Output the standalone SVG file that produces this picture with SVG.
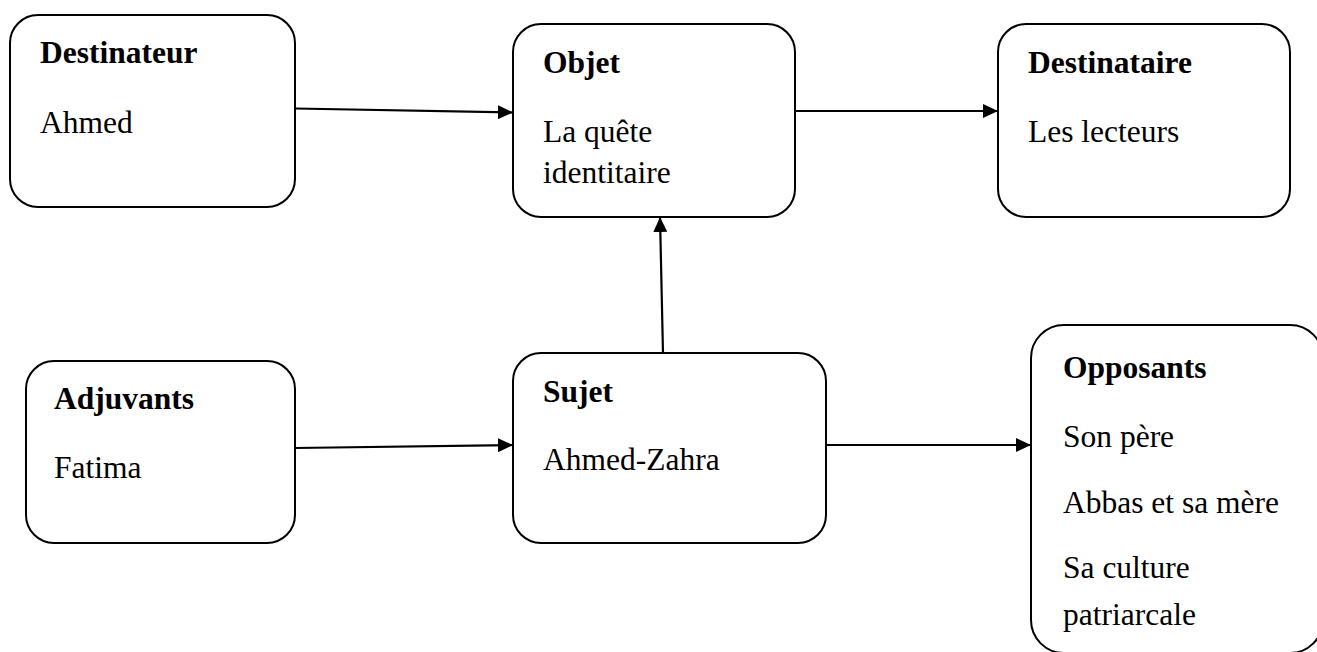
<svg xmlns="http://www.w3.org/2000/svg" width="1317" height="652" viewBox="0 0 1317 652">
<style>
.box{fill:#fff;stroke:#000;stroke-width:2}
.t{font-family:"Liberation Serif","Times New Roman",serif;font-size:31.5px;fill:#000}
.b{font-weight:bold}
.c{stroke:#000;stroke-width:2.2;fill:none;marker-end:url(#ah)}
</style>
<defs>
<marker id="ah" markerWidth="15" markerHeight="14" refX="15" refY="7" orient="auto" markerUnits="userSpaceOnUse">
<path d="M0,0 L15,7 L0,14 Z" fill="#000"/>
</marker>
</defs>
<rect width="1317" height="652" fill="#fff"/>
<g id="destinateur">
<rect class="box" x="10" y="15" width="285" height="192" rx="28" ry="28"/>
<text class="t b" x="40" y="63">Destinateur</text>
<text class="t" x="40" y="133">Ahmed</text>
</g>
<g id="objet">
<rect class="box" x="513" y="24" width="282" height="193" rx="28" ry="28"/>
<text class="t b" x="543" y="73">Objet</text>
<text class="t" x="543" y="142">La quête</text>
<text class="t" x="543" y="183">identitaire</text>
</g>
<g id="destinataire">
<rect class="box" x="998" y="24" width="292" height="193" rx="28" ry="28"/>
<text class="t b" x="1028" y="73">Destinataire</text>
<text class="t" x="1028" y="142">Les lecteurs</text>
</g>
<g id="adjuvants">
<rect class="box" x="26" y="361" width="269" height="182" rx="28" ry="28"/>
<text class="t b" x="54" y="409">Adjuvants</text>
<text class="t" x="54" y="478">Fatima</text>
</g>
<g id="sujet">
<rect class="box" x="513" y="353" width="313" height="190" rx="28" ry="28"/>
<text class="t b" x="543" y="402">Sujet</text>
<text class="t" x="543" y="470">Ahmed-Zahra</text>
</g>
<g id="opposants">
<rect class="box" x="1031" y="325" width="292" height="328" rx="33" ry="33"/>
<text class="t b" x="1063" y="378">Opposants</text>
<text class="t" x="1063" y="447">Son père</text>
<text class="t" x="1063" y="513">Abbas et sa mère</text>
<text class="t" x="1063" y="578">Sa culture</text>
<text class="t" x="1063" y="625">patriarcale</text>
</g>
<g id="connectors">
<line class="c" x1="295" y1="108.5" x2="513" y2="112.5"/>
<line class="c" x1="795" y1="111" x2="998" y2="111"/>
<line class="c" x1="663" y1="353" x2="660" y2="217"/>
<line class="c" x1="295" y1="448" x2="513" y2="445"/>
<line class="c" x1="826" y1="445" x2="1031" y2="445"/>
</g>
</svg>
